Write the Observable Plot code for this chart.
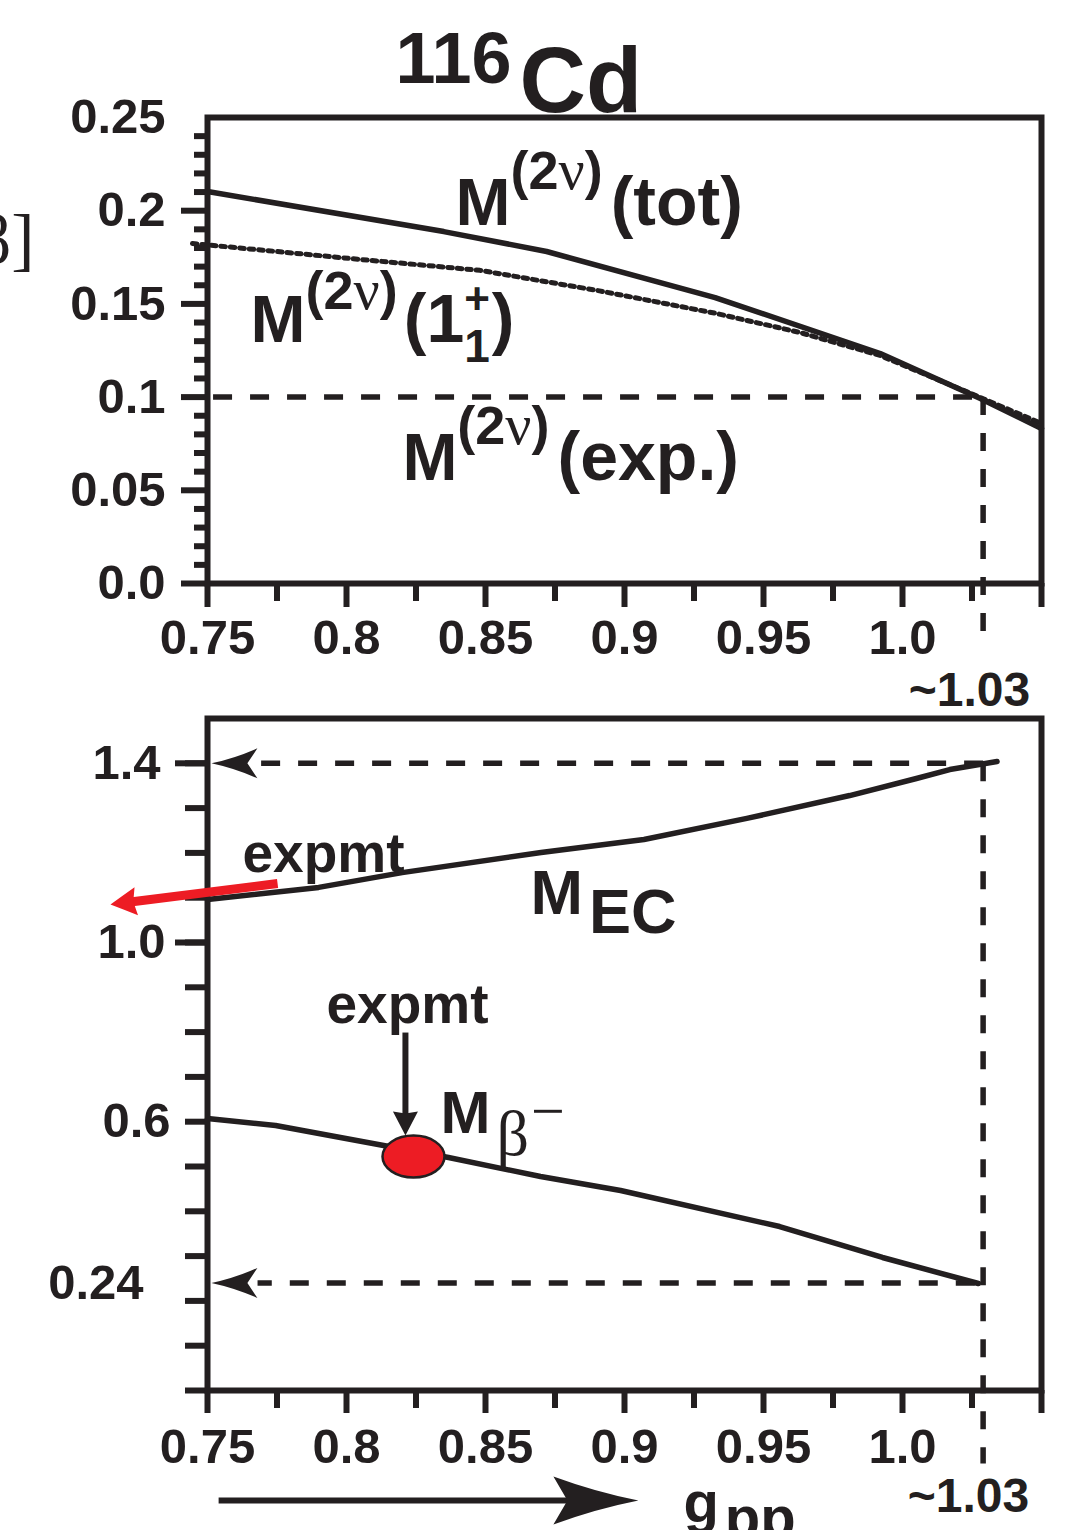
<!DOCTYPE html>
<html><head><meta charset="utf-8">
<script src="https://cdn.jsdelivr.net/npm/d3@7"></script>
<script src="https://cdn.jsdelivr.net/npm/@observablehq/plot@0.6"></script>
<style>
body{margin:0;background:#fff;}
#wrap{position:relative;width:1076px;height:1530px;overflow:hidden;background:#fff;}
#wrap svg{position:absolute;left:0;overflow:visible;}
</style></head><body><div id="wrap"></div>
<script>
// ---------- DATA ----------
// top panel: M^(2nu) vs g_pp
const gppTot = [0.75, 0.835, 0.872, 0.9326, 0.992, 1.028, 1.05];
const mTot   = [0.2103, 0.1888, 0.1781, 0.1534, 0.1234, 0.0992, 0.0832];
const gppOne = [0.7446, 0.801, 0.848, 0.891, 0.9326, 0.963, 0.992, 1.028, 1.05];
const mOne   = [0.1824, 0.1744, 0.168, 0.157, 0.145, 0.1347, 0.1223, 0.0998, 0.0858];
const mExpValue = 0.1;
const gppCross = 1.029;
// bottom panel: M_EC and M_beta- vs g_pp
const gppEC = [0.75, 0.79, 0.82, 0.87, 0.907, 0.944, 0.981, 1.005, 1.017, 1.034];
const mEC   = [1.096, 1.123, 1.156, 1.201, 1.230, 1.277, 1.328, 1.366, 1.386, 1.404];
const gppBeta = [0.75, 0.7745, 0.8367, 0.8698, 0.8986, 0.9558, 0.9928, 1.0273];
const mBeta   = [0.607, 0.5915, 0.520, 0.4777, 0.4464, 0.366, 0.2969, 0.2388];
const mECAtCross = 1.4, mBetaAtCross = 0.24;
const expBetaGpp = 0.8241, expBetaM = 0.5223;
// ticks
const xTickValues = [0.75, 0.8, 0.85, 0.9, 0.95, 1.0];
const xTickLabels = ["0.75", "0.8", "0.85", "0.9", "0.95", "1.0"];
const xMajor = [0.75, 0.8, 0.85, 0.9, 0.95, 1.0, 1.05];
const xMinor = [0.775, 0.825, 0.875, 0.925, 0.975, 1.025];
const yTopValues = [0, 0.05, 0.1, 0.15, 0.2, 0.25];
const yTopLabels = ["0.0", "0.05", "0.1", "0.15", "0.2", "0.25"];
const yTopMajor = [0, 0.05, 0.1, 0.15, 0.2];
const yTopMinor = [0.01,0.02,0.03,0.04,0.06,0.07,0.08,0.09,0.11,0.12,0.13,0.14,0.16,0.17,0.18,0.19,0.21,0.22,0.23,0.24];
const yBotValues = [1.4, 1.0, 0.6, 0.24];
const yBotLabels = ["1.4", "1.0", "0.6", "0.24"];
const yBotTicks = [0,0.1,0.2,0.3,0.4,0.5,0.6,0.7,0.8,0.9,1.0,1.1,1.2,1.3,1.4];
const crossLabel = "~1.03";

// ---------- STYLE ----------
const INK = "#231f20", RED = "#ed1c24";
const SANS = '"Liberation Sans", Arial, Helvetica, sans-serif';
const SERIF = '"Liberation Serif", "Times New Roman", serif';
const W = 1076, ML = 207, MR = 35;
const TOP_H = 710, BOT_H = 820;
const TICK_W = 6, LINE_W = 5.5, DASH_W = 5.5;

const cv = document.createElement("canvas").getContext("2d");
function measure(t, size, serif, weight) {
  cv.font = `${weight} ${size}px ${serif ? SERIF : SANS}`;
  return cv.measureText(t).width;
}
function rich(x, y, parts) {
  let off = 0; const marks = [];
  for (const p of parts) {
    const weight = p.weight || "bold";
    off += p.gap || 0;
    marks.push(Plot.text([{x, y}], {
      x: "x", y: "y", text: () => p.t, dx: off, dy: p.dy || 0,
      textAnchor: "start", lineAnchor: "bottom", fontSize: p.size,
      fontFamily: p.serif ? SERIF : SANS, fontWeight: weight, fill: INK
    }));
    if (!p.stack) off += measure(p.t, p.size, p.serif, weight);
  }
  return marks;
}
function arrowSym({L, Wd, N = 0, bow = 0, angle = 0}) {
  const c = Math.cos(angle * Math.PI / 180), s = Math.sin(angle * Math.PI / 180);
  return {draw(ctx, size) {
    const k = Math.sqrt(size / Math.PI) / 10;
    const P = (x, y) => [k * (x * c - y * s), k * (x * s + y * c)];
    const h = Wd / 2;
    ctx.moveTo(...P(0, 0));
    ctx.quadraticCurveTo(...P(-L / 2, -h / 2 * (1 - bow)), ...P(-L, -h));
    ctx.lineTo(...P(-L + N, 0));
    ctx.lineTo(...P(-L, h));
    ctx.quadraticCurveTo(...P(-L / 2, h / 2 * (1 - bow)), ...P(0, 0));
    ctx.closePath();
  }};
}
const ellipseSym = {draw(ctx, size) {
  const r = Math.sqrt(size / Math.PI), rx = 3.1 * r, ry = 2.1 * r, k = 0.5523;
  ctx.moveTo(rx, 0);
  ctx.bezierCurveTo(rx, ry * k, rx * k, ry, 0, ry);
  ctx.bezierCurveTo(-rx * k, ry, -rx, ry * k, -rx, 0);
  ctx.bezierCurveTo(-rx, -ry * k, -rx * k, -ry, 0, -ry);
  ctx.bezierCurveTo(rx * k, -ry, rx, -ry * k, rx, 0);
  ctx.closePath();
}};

const svgStyle = {fontFamily: SANS, fontWeight: "bold", color: INK, background: "transparent", overflow: "visible"};
const fmt = (vals, labs) => (d) => { const i = vals.indexOf(d); return i < 0 ? "" : labs[i]; };
const blank = () => "";
const link = (x1, y1, x2, y2, o) => Plot.link([{x1, y1, x2, y2}], {x1: "x1", y1: "y1", x2: "x2", y2: "y2", stroke: INK, ...o});
const ticksY = (vals, size) => Plot.axisY(vals, {tickSize: size, strokeWidth: TICK_W, stroke: INK, tickFormat: blank});
const ticksX = (vals, size) => Plot.axisX(vals, {tickSize: size, strokeWidth: TICK_W, stroke: INK, tickFormat: blank});

// ---------- TOP PANEL ----------
const tot = gppTot.map((g, i) => ({g, m: mTot[i]}));
const one = gppOne.map((g, i) => ({g, m: mOne[i]}));

const topPlot = Plot.plot({
  width: W, height: TOP_H, marginLeft: ML, marginRight: MR, marginTop: 117, marginBottom: 127,
  x: {domain: [0.75, 1.05], axis: null},
  y: {domain: [0, 0.25], axis: null},
  style: svgStyle,
  marks: [
    link(0.752, mExpValue, gppCross, mExpValue, {strokeWidth: DASH_W, strokeDasharray: "19,18"}),
    link(gppCross, mExpValue, gppCross, -0.0333, {strokeWidth: DASH_W, strokeDasharray: "18,18"}),
    Plot.line(one, {x: "g", y: "m", stroke: INK, strokeWidth: 5, strokeDasharray: "4.5,5"}),
    Plot.line(tot, {x: "g", y: "m", stroke: INK, strokeWidth: LINE_W}),
    Plot.frame({stroke: INK, strokeWidth: 6}),
    ticksY(yTopMajor, 26),
    ticksY(yTopMinor, 13),
    Plot.axisY(yTopValues, {tickSize: 0, tickPadding: 42, tickFormat: fmt(yTopValues, yTopLabels), fontSize: 49, fontWeight: "bold", fill: INK}),
    ticksX(xMajor, 24),
    ticksX(xMinor, 18),
    Plot.axisX(xTickValues, {tickSize: 0, tickPadding: 36, tickFormat: fmt(xTickValues, xTickLabels), fontSize: 49, fontWeight: "bold", fill: INK}),
    Plot.text([{x: 1.0241, y: -0.0655}], {x: "x", y: "y", text: () => crossLabel, fontSize: 48, fontWeight: "bold", fontFamily: SANS, lineAnchor: "bottom", fill: INK}),
    // title
    ...rich(0.8176, 0.2527, [{t: "116", size: 72, dy: -29}, {t: "Cd", size: 92, gap: 8}]),
    // cut-off axis title fragment (cropped in the original figure)
    Plot.text([{x: 0.6878, y: 0.1717}], {x: "x", y: "y", text: () => "β]", fontSize: 70, fontFamily: SERIF, fontWeight: "normal", textAnchor: "end", lineAnchor: "bottom", fill: INK}),
    // M(2nu)(tot)
    ...rich(0.8392, 0.1921, [
      {t: "M", size: 66}, {t: "(2", size: 54, dy: -36},
      {t: "ν", size: 58, serif: true, weight: "normal", dy: -36}, {t: ")", size: 54, dy: -36},
      {t: "(tot)", size: 68, gap: 8}]),
    // M(2nu)(1+1)
    ...rich(0.7655, 0.1293, [
      {t: "M", size: 66}, {t: "(2", size: 54, dy: -33},
      {t: "ν", size: 58, serif: true, weight: "normal", dy: -33}, {t: ")", size: 54, dy: -33},
      {t: "(1", size: 68, gap: 6}, {t: "+", size: 44, dy: -28, stack: true}, {t: "1", size: 46, dy: 20},
      {t: ")", size: 68, gap: 2}]),
    // M(2nu)(exp.)
    ...rich(0.8201, 0.0553, [
      {t: "M", size: 66}, {t: "(2", size: 54, dy: -36},
      {t: "ν", size: 58, serif: true, weight: "normal", dy: -36}, {t: ")", size: 54, dy: -36},
      {t: "(exp.)", size: 68, gap: 8}])
  ]
});
topPlot.style.top = "0px";

// ---------- BOTTOM PANEL ----------
const ec = gppEC.map((g, i) => ({g, m: mEC[i]}));
const beta = gppBeta.map((g, i) => ({g, m: mBeta[i]}));
const X = d3.scaleLinear([0.75, 1.05], [ML, W - MR]);
const YB = d3.scaleLinear([0, 1.5], [BOT_H - 140, 8]);
function headGeom(from, to, back) {
  const x0 = X(from[0]), y0 = YB(from[1]), x1 = X(to[0]), y1 = YB(to[1]);
  const len = Math.hypot(x1 - x0, y1 - y0), ux = (x1 - x0) / len, uy = (y1 - y0) / len;
  return {angle: Math.atan2(uy, ux) * 180 / Math.PI, end: [X.invert(x1 - ux * back), YB.invert(y1 - uy * back)]};
}
const redFrom = [0.7752, 1.1317], redTip = [0.7151, 1.0848];
const downFrom = [0.8212, 0.799], downTip = [0.8212, 0.569];
const gFrom = [0.754, -0.2455], gTip = [0.905, -0.2455];
const redH = headGeom(redFrom, redTip, 12);
const downH = headGeom(downFrom, downTip, 12);
const gH = headGeom(gFrom, gTip, 40);
const headDot = (pt, sym, fill) => Plot.dot([{x: pt[0], y: pt[1]}], {x: "x", y: "y", r: 10, symbol: sym, fill, stroke: "none"});

const bottomPlot = Plot.plot({
  width: W, height: BOT_H, marginLeft: ML, marginRight: MR, marginTop: 8, marginBottom: 140,
  x: {domain: [0.75, 1.05], axis: null},
  y: {domain: [0, 1.5], axis: null},
  style: svgStyle,
  marks: [
    link(gppCross, mECAtCross, 0.768, mECAtCross, {strokeWidth: DASH_W, strokeDasharray: "19,18"}),
    link(1.026, mBetaAtCross, 0.768, mBetaAtCross, {strokeWidth: DASH_W, strokeDasharray: "19,18"}),
    link(gppCross, mECAtCross, gppCross, -0.163, {strokeWidth: DASH_W, strokeDasharray: "18,18"}),
    headDot([0.7514, mECAtCross], arrowSym({L: 46, Wd: 30, N: 10, bow: 0.35, angle: 180}), INK),
    headDot([0.7514, mBetaAtCross], arrowSym({L: 46, Wd: 30, N: 10, bow: 0.35, angle: 180}), INK),
    Plot.line(ec, {x: "g", y: "m", stroke: INK, strokeWidth: LINE_W}),
    Plot.line(beta, {x: "g", y: "m", stroke: INK, strokeWidth: LINE_W}),
    Plot.frame({stroke: INK, strokeWidth: 6}),
    ticksY(yBotTicks, 22),
    ticksY([1.4, 1.0], 32),
    Plot.axisY(yBotValues.slice(0, 1), {tickSize: 0, tickPadding: 47, tickFormat: fmt(yBotValues, yBotLabels), fontSize: 49, fill: INK}),
    Plot.axisY(yBotValues.slice(1, 2), {tickSize: 0, tickPadding: 42, tickFormat: fmt(yBotValues, yBotLabels), fontSize: 49, fill: INK}),
    Plot.axisY(yBotValues.slice(2, 3), {tickSize: 0, tickPadding: 37, tickFormat: fmt(yBotValues, yBotLabels), fontSize: 49, fill: INK}),
    Plot.axisY(yBotValues.slice(3, 4), {tickSize: 0, tickPadding: 64, tickFormat: fmt(yBotValues, yBotLabels), fontSize: 49, fill: INK}),
    ticksX(xMajor, 23),
    ticksX(xMinor, 18),
    Plot.axisX(xTickValues, {tickSize: 0, tickPadding: 38, tickFormat: fmt(xTickValues, xTickLabels), fontSize: 49, fill: INK}),
    // red experimental arrow (M_EC)
    link(redFrom[0], redFrom[1], redH.end[0], redH.end[1], {stroke: RED, strokeWidth: 9}),
    headDot(redTip, arrowSym({L: 26, Wd: 28, N: 3, angle: redH.angle}), RED),
    // experimental point (M_beta-)
    Plot.dot([{x: expBetaGpp, y: expBetaM}], {x: "x", y: "y", r: 10, symbol: ellipseSym, fill: RED, stroke: INK, strokeWidth: 2.5}),
    link(downFrom[0], downFrom[1], downH.end[0], downH.end[1], {strokeWidth: 6}),
    headDot(downTip, arrowSym({L: 24, Wd: 25, N: 2, angle: downH.angle}), INK),
    // g_pp arrow
    link(gFrom[0], gFrom[1], gH.end[0], gH.end[1], {strokeWidth: 6}),
    headDot(gTip, arrowSym({L: 85, Wd: 48, N: 14, bow: 0.3, angle: gH.angle}), INK),
    // labels
    ...rich(0.7626, 1.1563, [{t: "expmt", size: 55}]),
    ...rich(0.7928, 0.8214, [{t: "expmt", size: 55}]),
    ...rich(0.8662, 1.0647, [{t: "M", size: 63}, {t: "EC", size: 63, dy: 19, gap: 6}]),
    ...rich(0.8338, 0.5737, [{t: "M", size: 60}, {t: "β", size: 64, serif: true, weight: "normal", dy: 22, gap: 6},
                             {t: "−", size: 60, serif: true, weight: "normal", dy: -2, gap: 2}]),
    ...rich(0.9212, -0.2946, [{t: "g", size: 58}, {t: "pp", size: 58, dy: 15, gap: 6}]),
    Plot.text([{x: 1.0237, y: -0.2723}], {x: "x", y: "y", text: () => crossLabel, fontSize: 48, fontWeight: "bold", fontFamily: SANS, lineAnchor: "bottom", fill: INK})
  ]
});
bottomPlot.style.top = "710px";

const wrap = document.getElementById("wrap");
wrap.appendChild(topPlot);
wrap.appendChild(bottomPlot);
</script></body></html>
